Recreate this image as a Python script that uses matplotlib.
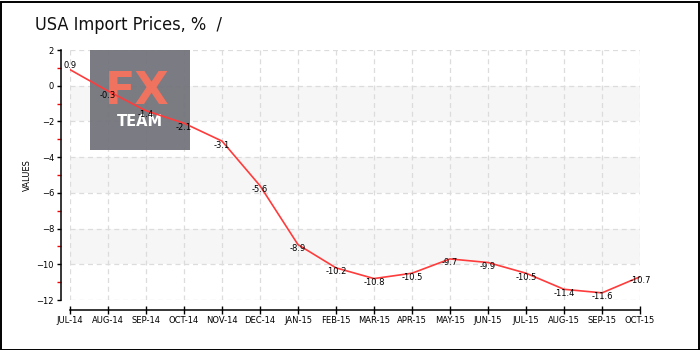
import matplotlib
matplotlib.use("Agg")
import matplotlib.pyplot as plt
from matplotlib.patches import Rectangle
from matplotlib.ticker import MultipleLocator

months = ["JUL-14", "AUG-14", "SEP-14", "OCT-14", "NOV-14", "DEC-14",
          "JAN-15", "FEB-15", "MAR-15", "APR-15", "MAY-15", "JUN-15",
          "JUL-15", "AUG-15", "SEP-15", "OCT-15"]
values = [0.9, -0.3, -1.4, -2.1, -3.1, -5.6, -8.9, -10.2, -10.8, -10.5,
          -9.7, -9.9, -10.5, -11.4, -11.6, -10.7]
bands = [(-2, 0), (-6, -4), (-10, -8)]

DPI = 100
fig = plt.figure(figsize=(7, 3.5), dpi=DPI)
fig.patch.set_facecolor("white")

# outer frame
fig.patches.append(Rectangle((0.5 / 700, 0.5 / 350), 698 / 700, 348 / 350,
                             transform=fig.transFigure, fill=False,
                             edgecolor="black", linewidth=1.4, zorder=10))

ax = fig.add_axes([70 / 700, 50 / 350, 570 / 700, 250 / 350])
x = list(range(len(months)))
ax.set_xlim(0, len(months) - 1)
ax.set_ylim(-12, 2)

for lo, hi in bands:
    ax.axhspan(lo, hi, color="#f6f6f6", zorder=0, linewidth=0)

ax.grid(True, color="#dcdcdc", linestyle=(0, (4, 3)), linewidth=0.9, zorder=1)
ax.set_axisbelow(True)

# logo block (inside the axes so the series and its labels sit on top)
ax.add_patch(Rectangle((90 / 700, 200 / 350), 100 / 700, 100 / 350,
                       transform=fig.transFigure, facecolor="#74747c",
                       alpha=0.95, edgecolor="none", zorder=2))
ax.text(137 / 700, 1 - 91 / 350, "FX", color="#f0735f", fontsize=32,
        fontweight="bold", ha="center", va="center", zorder=3,
        family="DejaVu Sans", transform=fig.transFigure)
ax.text(140 / 700, 1 - 122 / 350, "TEAM", color="white", fontsize=10.5,
        fontweight="bold", ha="center", va="center", zorder=3,
        family="DejaVu Sans", transform=fig.transFigure)

ax.plot(x, values, color="#ff3b3b", linewidth=1.2, zorder=5)

for i, v in enumerate(values):
    dy = 4 if i == 0 else -4
    ax.annotate(f"{v:g}", (i, v), xytext=(0, dy), textcoords="offset pixels",
                ha="center", va="center", fontsize=6, color="black", zorder=6)

for s in ("top", "right"):
    ax.spines[s].set_visible(False)
ax.spines["left"].set_position(("outward", 6.5))
ax.spines["bottom"].set_position(("outward", 7.2))
ax.spines["left"].set_linewidth(1.1)
ax.spines["bottom"].set_linewidth(1.1)

ax.set_xticks(x)
ax.set_xticklabels(months)
ax.yaxis.set_major_locator(MultipleLocator(2))
ax.yaxis.set_minor_locator(MultipleLocator(1))
ax.tick_params(axis="x", direction="inout", length=6, width=1, labelsize=6,
               pad=1)
ax.tick_params(axis="y", which="major", direction="out", length=3, width=1,
               labelsize=6, pad=2)
ax.tick_params(axis="y", which="minor", direction="out", length=3, width=1,
               color="red")

ax.set_ylabel("VALUES", fontsize=6, labelpad=3)

fig.text(35 / 700, 1 - 25 / 350, "USA Import Prices, %  /", fontsize=13,
         fontstretch="condensed", ha="left", va="center", color="#111111",
         family="DejaVu Sans")

fig.savefig("out.png", dpi=DPI)
